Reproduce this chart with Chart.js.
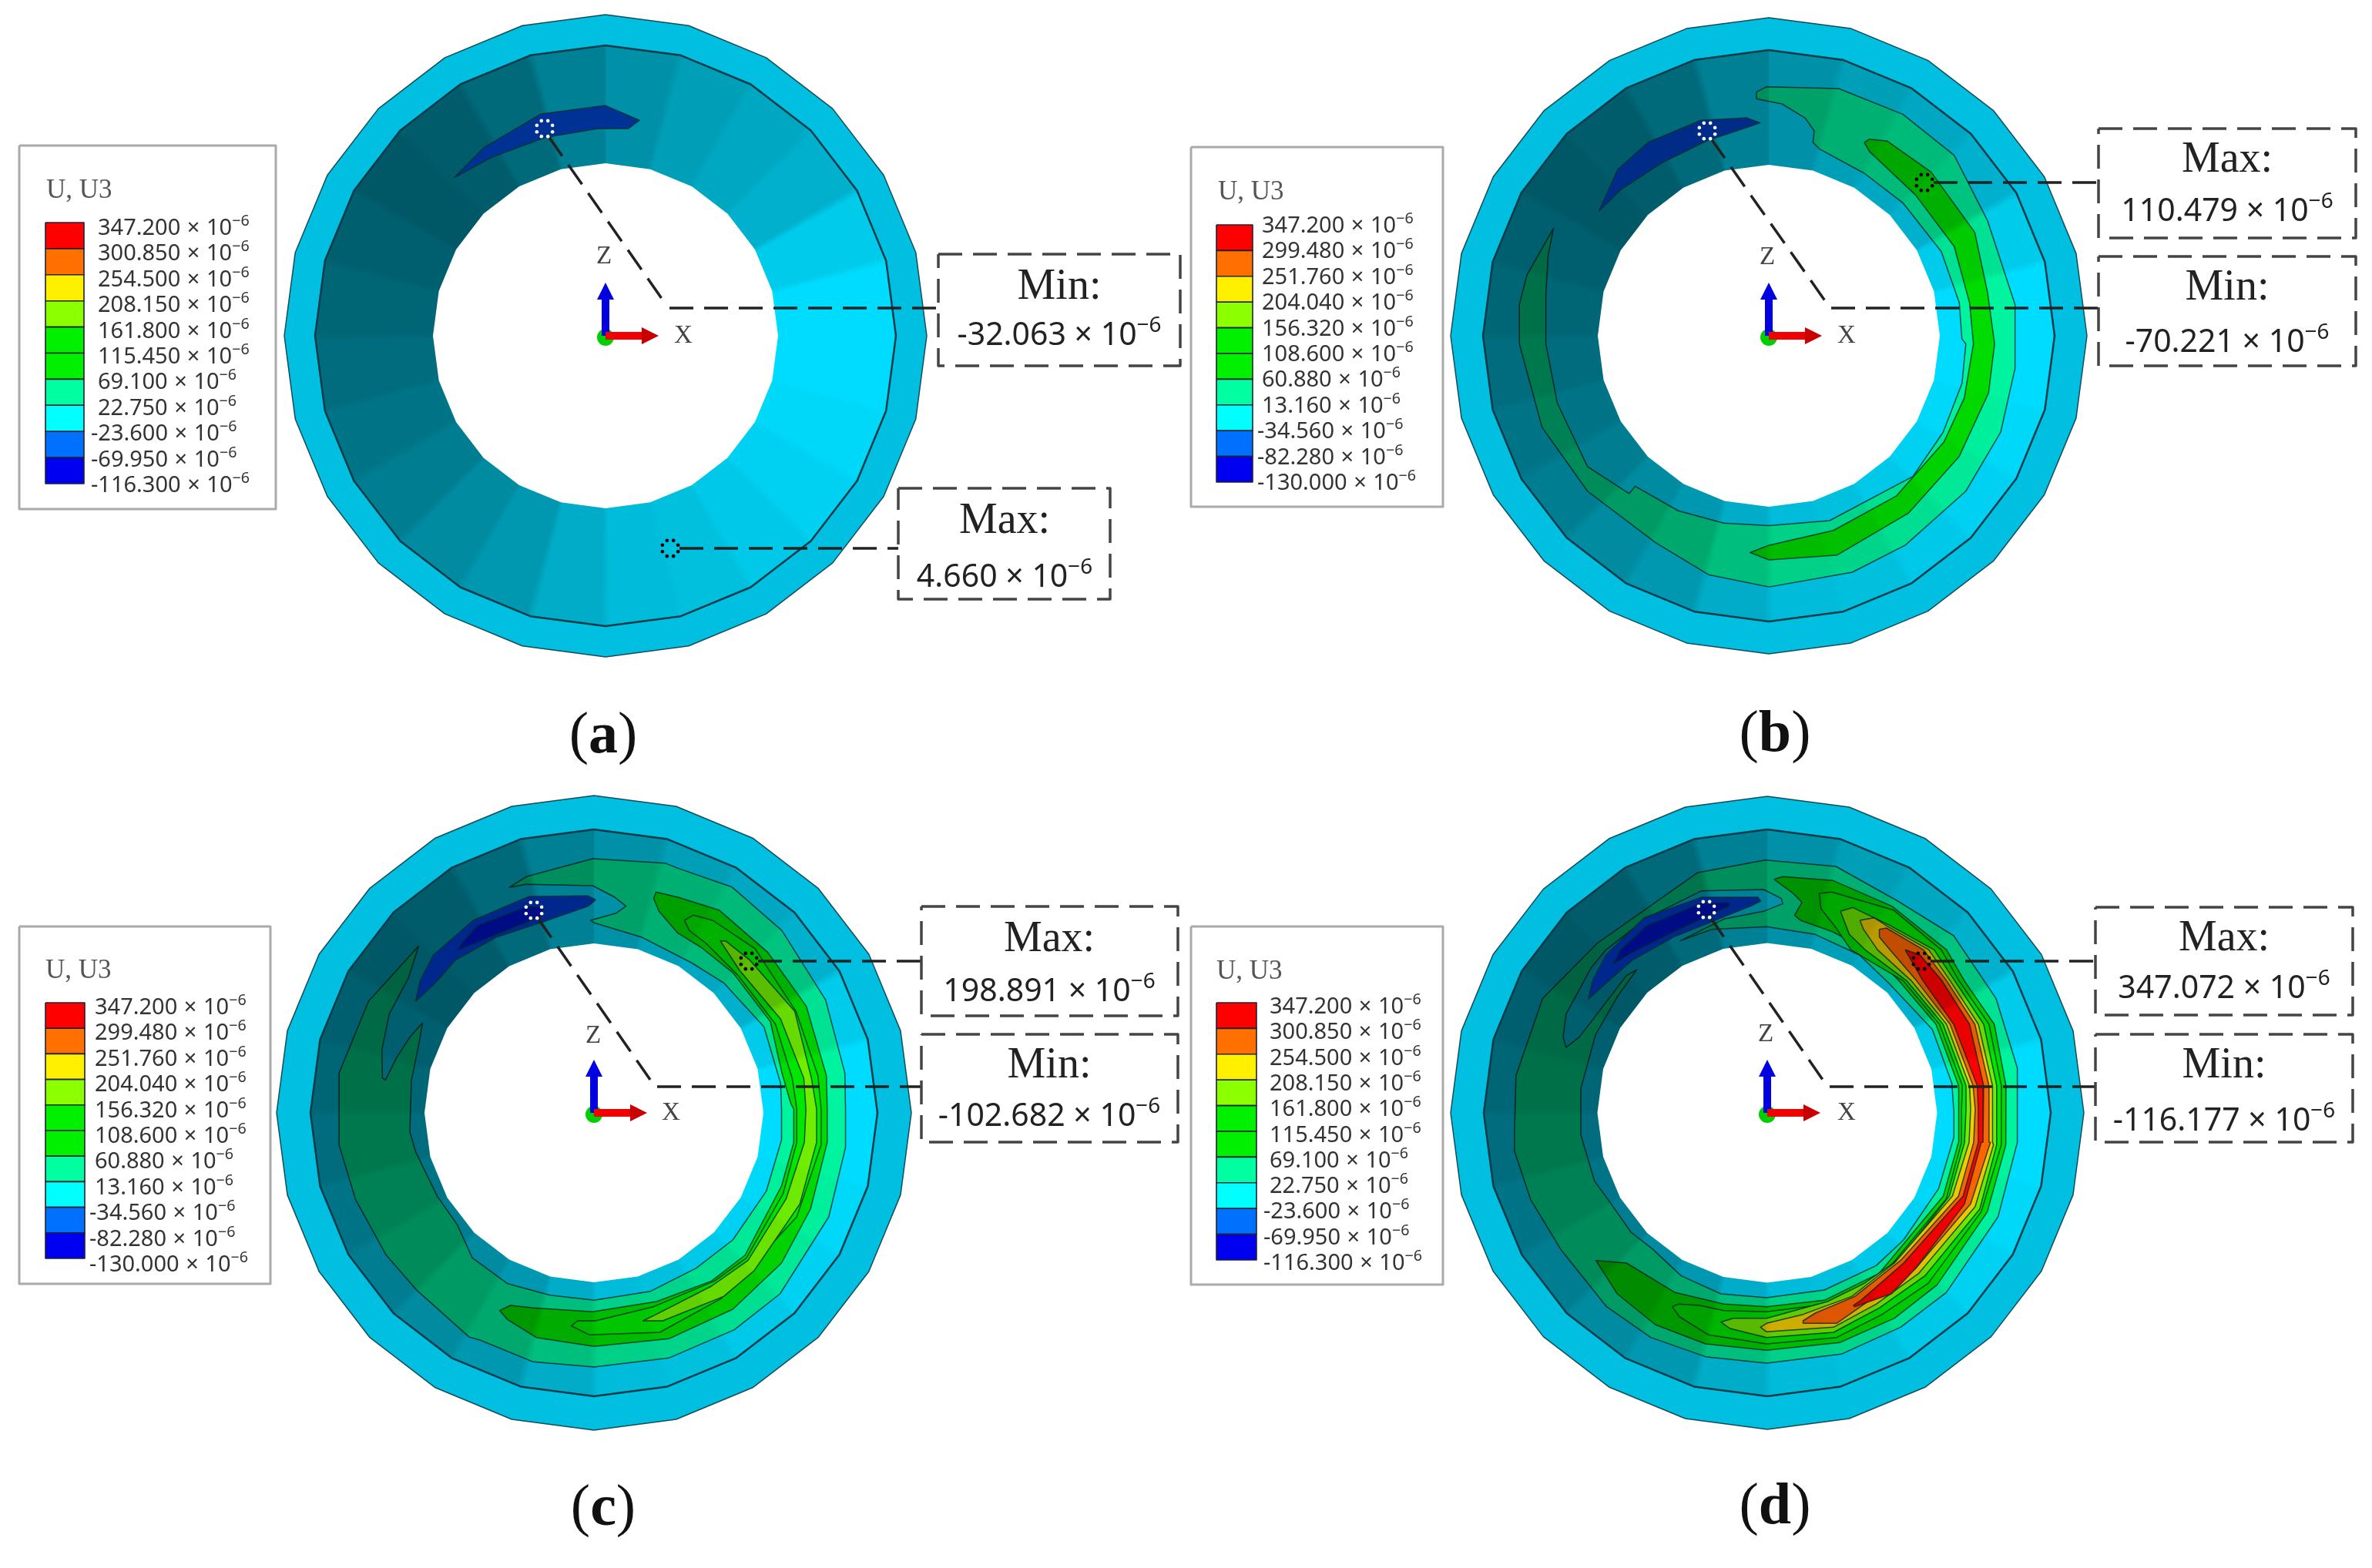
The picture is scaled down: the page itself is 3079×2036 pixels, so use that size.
<!DOCTYPE html>
<html><head><meta charset="utf-8">
<style>
html,body{margin:0;padding:0;background:#fff}
#wrap{position:relative;width:3079px;height:2036px;overflow:hidden;filter:blur(.6px)}
canvas{position:absolute;left:0;top:0}
.t{position:absolute;white-space:pre;line-height:1}
.t sup{font-size:.68em;vertical-align:.58em;line-height:0}
.leg{font-family:"Noto Sans";font-size:29px;color:#333;word-spacing:1px;transform:translateY(-50%)}
.title{font-family:"Liberation Serif";font-size:35px;color:#555;transform:translateY(-50%)}
.head{font-family:"Liberation Serif";font-size:56px;color:#222;transform:translate(-50%,-50%)}
.val{font-family:"Noto Sans";font-size:41px;color:#222;transform:translate(-50%,-50%)}
.axis{font-family:"Liberation Serif";font-size:33px;color:#444;transform:translate(-50%,-50%)}
.cap{font-family:"Liberation Serif";font-size:76px;color:#111;transform:translate(-50%,-50%)}
.cap b{font-weight:700}
</style>
<script src="https://cdn.jsdelivr.net/npm/chart.js@4/dist/chart.umd.min.js"></script>
</head><body><div id="wrap"><canvas id="c" width="3079" height="2036"></canvas></div>
<script>
// ---------- values ----------
const legendLabelsAD=['347.200','300.850','254.500','208.150','161.800','115.450','69.100','22.750','-23.600','-69.950','-116.300'];
const legendLabelsBC=['347.200','299.480','251.760','204.040','156.320','108.600','60.880','13.160','-34.560','-82.280','-130.000'];
const legendColors=['#ff0000','#ff7000','#fff000','#8cff00','#00f000','#00f000','#00ffa0','#00ffff','#0070ff','#0000f0'];
const facetShade=[.66,.72,.76,.80,.92,1,1,.98,.95,.91,.87,.85,.78,.69,.63,.57,.53,.49,.46,.43,.40,.42,.48,.58];
const maxValues=['4.660','110.479','198.891','347.072'];
const minValues=['-32.063','-70.221','-102.682','-116.177'];
const captions=['a','b','c','d'];

// read-off frames: contour outlines below are read in these crop units of the picture
const frames={
 a:{x:0,y:0,sx:1.018,sy:1.568}, b:{x:1540,y:0,sx:1.018,sy:1.568}, b2:{x:2280,y:60,sx:3,sy:3},
 c3:{x:0,y:1020,sx:1.018,sy:1.543}, c7:{x:400,y:1070,sx:2.613,sy:3}, c8:{x:540,y:1440,sx:2.529,sy:3}, c11:{x:880,y:1100,sx:3,sy:3},
 d4:{x:1540,y:1020,sx:1.018,sy:1.543}, d9:{x:1920,y:1070,sx:2.613,sy:3}, d10:{x:2040,y:1440,sx:2.529,sy:3}, d6:{x:2350,y:1150,sx:2.178,sy:3}
};

const aNavy=[['a',[600,362,640,300,715,232,800,215,845,245,830,262,790,262,720,280,650,320]]];

const bTeal=[['b2',[0,178,40,158,320,165,570,265,770,425,900,680]],
 ['b',[1095,620,1095,750,1076,880,1030,1000,950,1110,880,1165,770,1195,690,1170,620,1105,530,1000,470,870,440,700,440,620,450,560,485,465,478,520,475,600,475,700,490,820,530,950,585,1005,593,990,650,1040,710,1065,770,1070,850,1060,960,970,1000,880,1025,780,1030,700]],
 ['b2',[800,1140,790,1000,720,800,570,610,420,495,245,400,220,375,225,330,190,280,100,225,0,205]]];
const bGreen=[['b2',[420,375,440,362,510,370,680,490,850,725,900,960]],
 ['b',[1068,700,1060,800,1021,930,954,1045,860,1130,770,1140,745,1125,770,1110,855,1080,938,1010,1001,900,1028,810,1040,700]],
 ['b2',[830,1000,770,780,620,580,440,410]]];
const bNavy=[['b',[545,430,570,345,610,290,680,245,740,240,758,250,720,270,690,285,630,330,575,385]]];

const cTeal=[['c7',[375,475,205,690,105,970,105,1200]],
 ['c3',[448,720,470,830,510,940,550,1010,620,1105]],
 ['c8',[210,900,385,985,585,1005,830,970,1045,860,1195,720,1355,420,1410,150,1410,0]],
 ['c11',[650,880,575,595,405,325,210,155,0,82]],
 ['c7',[1210,152,965,135,740,205,682,247,740,235,965,240,1040,285,1078,320,1045,347,958,375,970,385,1130,440,1300,540]],
 ['c11',[180,530,335,700,400,920]],
 ['c8',[1200,0,1200,120,1150,320,1040,510,920,620,770,710,585,745,440,725,300,680,185,580,135,450,70,340,0,170]],
 ['c7',[345,1200,350,1000,375,860,388,775,345,830,300,910,262,998,252,990,250,880,275,740,340,600]]];
const cGreen1=[['c7',[1180,265,1254,285]],
 ['c11',[0,195,160,245,350,410,500,620,578,890]],
 ['c8',[1350,0,1350,130,1295,390,1200,600,1040,780,830,895,585,925,395,890,300,820,275,785,310,765,385,775,580,790,790,750,970,670,1080,570,1200,300,1240,130,1240,0]],
 ['c11',[440,1000,405,880,360,680,215,490,90,390,0,335]],
 ['c7',[1190,340,1172,290]]];
const cGreen2=[['c11',[25,285,60,265,135,285,300,395,460,640,545,890]],
 ['c8',[1330,0,1330,140,1250,420,1000,740,800,870,570,880,510,845,530,825,590,825,780,770,980,670,1085,580,1205,330,1250,130,1250,0]],
 ['c11',[445,900,380,690,235,500,110,375,45,325]]];
const cLime=[['c11',[165,365,185,365,280,440,455,640,520,900]],
 ['c8',[1315,0,1315,130,1260,370,1110,630,1010,730,810,825,745,825,780,805,970,690,1090,590,1215,350,1275,130,1280,0]],
 ['c11',[490,900,400,670,240,480]]];
const cNavy1=[['c7',[365,690,380,610,425,510,560,375,750,282,950,280,975,295,950,320,800,380,640,440,500,530,430,620]]];
const cNavy2=[['c7',[510,490,520,465,575,395,735,325,760,320,800,325,790,360,660,420]]];

const dTeal=[['d9',[120,1200,125,980,215,680,400,465,740,190,970,140,1210,165,1420,300]],
 ['d6',[405,195,525,440,585,710,585,1000]],
 ['d10',[1400,420,1230,715,1080,850,885,955,640,990,440,965,260,890,115,770]],
 ['d4',[495,930,455,830,433,730]]];
const dInner=[['d10',[1255,0,1255,110,1205,310,1090,510,1000,610,830,705,640,735,490,720,360,650,265,545,195,480,130,370,75,280,30,100]],
 ['d9',[345,1200,345,1030,395,820,470,670,535,567,500,590,420,710,340,830,295,870,285,830,295,740,380,560,430,490,570,365,755,260,965,255,1025,290,1030,310,965,340,830,370,682,455,790,410,975,400,1140,430,1290,510,1390,620]],
 ['d6',[345,560,400,770,405,870]]];
const dGreen1=[['d9',[1000,215,1030,205,1200,220,1400,320]],
 ['d6',[385,250,435,370,520,540,553,780,553,1000]],
 ['d10',[1425,140,1365,400,1200,685,1060,815,880,910,640,940,440,915,275,840,150,720,80,590,180,600,340,715,500,760,640,770,830,745,1010,640,1220,340,1270,130,1270,0]],
 ['d6',[420,780,355,540,250,370]],
 ['d9',[1330,500,1200,420,1090,375,1070,355,1095,305,1065,270]]];
const dGreen2=[['d6',[25,30,60,25,235,95,370,250,420,370,505,540,540,780,540,1000]],
 ['d10',[1410,140,1345,400,1170,680,1020,800,870,890,640,915,450,880,355,810,330,770,350,760,420,765,500,785,640,790,840,760,1020,650,1230,350,1280,130,1280,0]],
 ['d6',[430,780,365,540,262,370,115,250,70,160,30,90]]];
const dLime=[['d6',[85,100,120,85,225,155,350,250,408,370,490,540,527,780,527,1000]],
 ['d10',[1395,140,1340,390,1160,650,1010,775,860,870,640,890,520,855,490,830,530,815,640,815,840,750,960,680,1080,580,1240,340,1290,130,1295,0]],
 ['d6',[440,780,375,540,272,370,155,250,110,190]]];
const dYellow=[['d6',[140,135,180,125,220,160,335,250,395,370,475,540,515,780,515,1000]],
 ['d10',[1385,140,1325,380,1140,640,1000,760,860,850,640,868,620,850,640,835,760,800,920,730,1060,600,1250,340,1305,130,1310,0]],
 ['d6',[450,780,385,540,285,370,190,250,150,170]]];
const dOrange=[['d6',[195,170,215,165,320,250,385,370,465,540,505,780,505,1000]],
 ['d10',[1375,130,1310,370,1130,620,870,835,760,835,760,825,800,795,930,730,1080,590,1270,340,1320,130,1325,0]],
 ['d6',[460,780,395,540,300,370,225,250,195,200]]];
const dRed=[['d6',[268,250,310,270,372,370,450,540,490,780,488,1000]],
 ['d10',[1345,130,1290,370,1130,620,1050,720,930,770,925,765,950,745,1090,600,1285,340,1335,130,1335,0]],
 ['d6',[472,780,405,540,318,370]]];
const dNavy1=[['d9',[370,683,385,610,430,510,560,365,755,285,945,285,955,300,920,320,790,380,660,440,520,530,430,620]]];
const dNavy2=[['d9',[455,545,480,490,570,395,750,310,845,305,850,318,800,345,660,420,520,500]]];

// ---------- styles ----------
const COL={rim:'#00bfe0',cyan:'#00dcff',teal:'#00f4a0',g1:'#00dc00',g2:'#00e800',lime:'#70ee00',yellow:'#f0cc00',orange:'#ff6400',red:'#ff0000',navy:'#00288c',navyDark:'#000c84'};
const EDGE='rgba(0,45,40,.8)';

// ---------- layout ----------
const panels=[
 {cx:786,cy:436,R:417,rR:377,rH:224,labels:legendLabelsAD,
  bands:[],top:[[aNavy,'#003296']],
  leg:{x0:25,x1:358,y0:189,y1:661,sx0:59,sx1:109,sy0:289,sy1:628,r0:293,r1:627,l:127,n:118,tx:60,ty:245},
  maxBox:[1166,1441,634,778],maxT:[1304,673,746],minBox:[1218,1532,330,475],minT:[1375,369,432],
  maxM:[870,712],minM:[707,167],minEnd:[862,392],minY:400,minX:869,capXY:[783,951],Z:[784,331],X:[887,434]},
 {cx:2296,cy:436,R:413,rR:371,rH:222,labels:legendLabelsBC,
  bands:[[bTeal,COL.teal],[bGreen,COL.g1]],top:[[bNavy,'#002c88']],
  leg:{x0:1546,x1:1873,y0:191,y1:658,sx0:1579,sx1:1626,sy0:292,sy1:626,r0:290,r1:624,l:1638,n:1632,tx:1581,ty:247},
  maxBox:[2724,3058,167,309],maxT:[2891,204,271],minBox:[2724,3058,333,475],minT:[2891,370,441],
  maxM:[2498,237],minM:[2216,170],minEnd:[2370,392],minY:400,minX:2377,capXY:[2304,949],Z:[2294,332],X:[2397,434]},
 {cx:771,cy:1445,R:412,rR:368,rH:220,labels:legendLabelsBC,
  bands:[[cTeal,COL.teal],[cGreen1,COL.g1],[cGreen2,COL.g2],[cLime,COL.lime]],top:[[cNavy1,COL.navy],[cNavy2,COL.navyDark]],
  leg:{x0:25,x1:351,y0:1203,y1:1667,sx0:59,sx1:110,sy0:1302,sy1:1634,r0:1305,r1:1639,l:123,n:116,tx:59,ty:1258},
  maxBox:[1196,1529,1177,1319],maxT:[1362,1216,1284],minBox:[1196,1529,1343,1483],minT:[1362,1380,1446],
  maxM:[972,1248],minM:[693,1182],minEnd:[844,1402],minY:1411,minX:853,capXY:[783,1954],Z:[770,1343],X:[871,1443]},
 {cx:2294,cy:1445,R:411,rR:368,rH:220.5,labels:legendLabelsAD,
  bands:[[dTeal,COL.teal],[dInner,COL.cyan],[dGreen1,COL.g1],[dGreen2,COL.g2],[dLime,COL.lime],[dYellow,COL.yellow],[dOrange,COL.orange],[dRed,COL.red]],top:[[dNavy1,COL.navy],[dNavy2,COL.navyDark]],
  leg:{x0:1546,x1:1873,y0:1203,y1:1668,sx0:1579,sx1:1631,sy0:1302,sy1:1636,r0:1304,r1:1637,l:1648,n:1640,tx:1579,ty:1259},
  maxBox:[2720,3054,1178,1318],maxT:[2887,1215,1280],minBox:[2720,3054,1343,1483],minT:[2887,1380,1452],
  maxM:[2494,1248],minM:[2215,1181],minEnd:[2366,1402],minY:1411,minX:2375,capXY:[2304,1952],Z:[2292,1341],X:[2397,1443]}
];

// ---------- builders ----------
const canvas=document.getElementById('c');
const g2d=canvas.getContext('2d');
const ds=[];
const line={showLine:true,pointRadius:0,pointHoverRadius:0,tension:0,clip:false};
function add(points,opts){ds.push(Object.assign({},line,{data:points,order:-ds.length},opts));}
function closed(p){return p.concat([p[0]]);}
function poly(points,fillColor,edge,w){add(closed(points),{fill:'shape',backgroundColor:fillColor,borderColor:edge||'rgba(0,0,0,0)',borderWidth:edge?(w||1.5):0});}
function stroke(points,color,w,dash){add(points,{fill:false,borderColor:color,borderWidth:w,borderDash:dash||[]});}
function ngon(cx,cy,r){const out=[];for(let i=0;i<24;i++){const a=i*Math.PI/12;out.push({x:cx+r*Math.sin(a),y:cy-r*Math.cos(a)});}return out;}
function unfold(runs){const out=[];runs.forEach(([f,arr])=>{const F=frames[f];for(let i=0;i<arr.length;i+=2)out.push({x:F.x+arr[i]/F.sx,y:F.y+arr[i+1]/F.sy});});return out;}
function rect(x0,x1,y0,y1){return [{x:x0,y:y0},{x:x1,y:y0},{x:x1,y:y1},{x:x0,y:y1}];}
function dots(cx,cy,color){const o=[];for(let i=0;i<8;i++){const a=(i+.5)*Math.PI/4;o.push({x:cx+11*Math.cos(a),y:cy+11*Math.sin(a)});}
 ds.push({data:o,showLine:false,pointRadius:2.3,pointBorderWidth:0,backgroundColor:color,pointBackgroundColor:color,clip:false,order:-ds.length});}
// lighting of the 24 cone facets as one conic shade, so that no seams appear between facets
function shadeGradient(cx,cy){
 const g=g2d.createConicGradient(-Math.PI/2,cx,cy);
 facetShade.forEach((s,i)=>{const c='rgba(0,0,0,'+(1-s).toFixed(3)+')';
  g.addColorStop((i+.06)/24,c);g.addColorStop((i+.94)/24,c);});
 return g;
}

const wrap=document.getElementById('wrap');
function text(cls,x,y,html){const e=document.createElement('div');e.className='t '+cls;e.style.left=x+'px';e.style.top=y+'px';e.innerHTML=html;wrap.appendChild(e);}
const E6=' × 10<sup>−6</sup>';
const DASH=[31,14];

panels.forEach((p,idx)=>{
 const {cx,cy}=p;
 // tube: rim, cone face, contour bands, facet shading, hole
 poly(ngon(cx,cy,p.R),COL.rim,'rgba(15,60,70,.9)',1.5);
 poly(ngon(cx,cy,p.rR),COL.cyan);
 p.bands.forEach(([runs,c])=>poly(unfold(runs),c,EDGE,1.5));
 poly(ngon(cx,cy,p.rR),shadeGradient(cx,cy));
 p.top.forEach(([runs,c])=>poly(unfold(runs),c,EDGE,1.5));
 stroke(closed(ngon(cx,cy,p.rR)),'#0b3a48',2.5);
 poly(ngon(cx,cy,p.rH),'#ffffff');

 // triad
 ds.push({data:[{x:cx,y:cy+2}],showLine:false,pointRadius:11,pointBorderWidth:0,backgroundColor:'#00d000',pointBackgroundColor:'#00d000',clip:false,order:-ds.length});
 poly(rect(cx-5,cx+5,cy-50,cy),'#0000e0');
 poly([{x:cx,y:cy-69},{x:cx+11,y:cy-47},{x:cx-11,y:cy-47}],'#0000e0');
 poly(rect(cx,cx+50,cy-5,cy+5),'#f00000');
 poly([{x:cx+69,y:cy},{x:cx+47,y:cy-11},{x:cx+47,y:cy+11}],'#c80000');

 // leaders and callouts
 stroke([{x:p.minM[0]+5,y:p.minM[1]+10},{x:p.minEnd[0],y:p.minEnd[1]}],'#222',3.5,DASH);
 stroke([{x:p.minX,y:p.minY},{x:p.minBox[0],y:p.minY}],'#222',3.5,DASH);
 stroke([{x:p.maxM[0]+12,y:p.maxM[1]},{x:p.maxBox[0],y:p.maxM[1]}],'#222',3.5,DASH);
 [p.maxBox,p.minBox].forEach(b=>stroke(closed(rect(b[0],b[1],b[2],b[3])),'#444',3.5,DASH));
 dots(p.maxM[0],p.maxM[1],'#000');
 dots(p.minM[0],p.minM[1],'#ffffff');

 // legend
 const L=p.leg;
 poly(rect(L.x0,L.x1,L.y0,L.y1),'#ffffff','#aaaaaa',3);
 const h=(L.sy1-L.sy0)/legendColors.length;
 legendColors.forEach((c,i)=>poly(rect(L.sx0,L.sx1,L.sy0+i*h,L.sy0+(i+1)*h),c,'#223',1.6));
 text('title',L.tx,L.ty,'U, U3');
 const dy=(L.r1-L.r0)/(p.labels.length-1);
 p.labels.forEach((v,i)=>text('leg',v[0]==='-'?L.n:L.l,L.r0+i*dy,v+E6));

 // callout text
 text('head',p.maxT[0],p.maxT[1],'Max:');
 text('val',p.maxT[0],p.maxT[2],maxValues[idx]+E6);
 text('head',p.minT[0],p.minT[1],'Min:');
 text('val',p.minT[0],p.minT[2],minValues[idx]+E6);
 text('axis',p.Z[0],p.Z[1],'Z');
 text('axis',p.X[0],p.X[1],'X');
 text('cap',p.capXY[0],p.capXY[1],'(<b>'+captions[idx]+'</b>)');
});

new Chart(canvas,{
 type:'scatter',
 data:{datasets:ds},
 options:{responsive:false,animation:false,devicePixelRatio:1,
  layout:{padding:0,autoPadding:false},
  events:[],
  plugins:{legend:{display:false},tooltip:{enabled:false},title:{display:false}},
  elements:{line:{borderJoinStyle:'round'}},
  scales:{x:{type:'linear',display:false,min:0,max:3079},y:{type:'linear',display:false,min:0,max:2036,reverse:true}}}
});
</script></body></html>
